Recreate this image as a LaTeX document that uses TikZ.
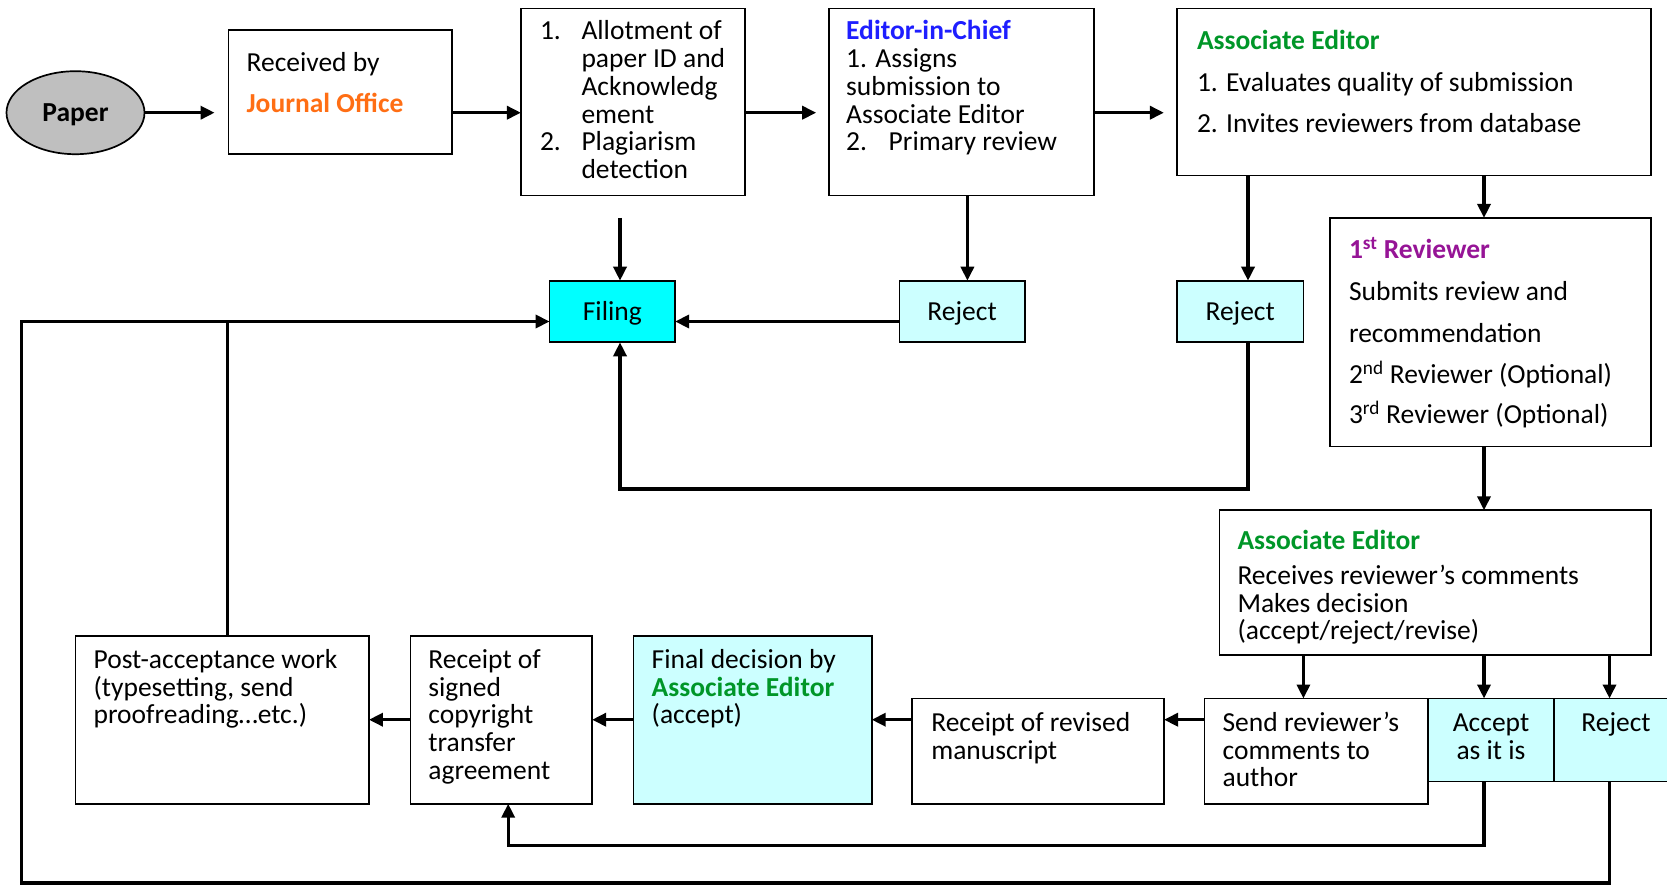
\documentclass[tikz,border=0pt]{standalone}
\usepackage{fontspec}
\setmainfont{Carlito}
\usetikzlibrary{arrows.meta,shapes.geometric}
\definecolor{jorange}{RGB}{255,110,20}
\definecolor{eblue}{RGB}{30,30,255}
\definecolor{agreen}{RGB}{0,150,40}
\definecolor{rpurple}{RGB}{150,20,150}
\definecolor{lcyan}{RGB}{204,255,255}
\definecolor{fcyan}{RGB}{0,255,255}
\definecolor{pgray}{RGB}{191,191,191}
\newcommand\mkbox[6]{\node[boxst,#6,minimum width={(#4)-(#2)},minimum height={(#5)-(#3)}] (#1) at ({((#2)+(#4))/2},{((#3)+(#5))/2}) {};}
\newcommand\txl[4]{\node[txt,anchor=base west] (#1) at (#2,#3) {#4};}
\newcommand\txc[4]{\node[txt,anchor=base] (#1) at (#2,#3) {#4};}
\begin{document}
\begin{tikzpicture}[x=1pt,y=-1pt,
  boxst/.style={draw,line width=1.7pt,inner sep=0pt,outer sep=0pt},
  txt/.style={inner sep=0pt,outer sep=0pt,yshift=-2.3pt,font=\fontsize{27.5}{28}\selectfont},
  arr/.style={line width=3.4pt,line join=miter,-{Triangle[length=14pt,width=13pt]}},
  ln/.style={line width=3.4pt,line join=miter}]
\useasboundingbox (0,0) rectangle (1667,886);
% boxes
\node[boxst,ellipse,fill=pgray,minimum width=138,minimum height=83] (paper) at (75.5,112.7) {};
\mkbox{recv}{228.6}{29.8}{451.8}{154.1}{}
\mkbox{allot}{520.9}{8.5}{745.2}{195.6}{}
\mkbox{eic}{829.2}{8.5}{1093.9}{195.6}{}
\mkbox{aeone}{1176.9}{8.5}{1651}{175.4}{}
\mkbox{rev}{1330}{217.9}{1651}{446.5}{}
\mkbox{aetwo}{1219.4}{510.3}{1651}{654.9}{}
\mkbox{send}{1204.5}{698.5}{1427.7}{803.7}{}
\mkbox{accept}{1427.7}{698.5}{1554.2}{781.4}{fill=lcyan}
\mkbox{rejthree}{1554.2}{698.5}{1690}{781.4}{fill=lcyan}
\mkbox{revd}{912.1}{698.5}{1164}{803.7}{}
\mkbox{final}{633.6}{635.7}{871.7}{803.7}{fill=lcyan}
\mkbox{signed}{410.4}{635.7}{592.1}{803.7}{}
\mkbox{post}{75.5}{635.7}{368.9}{803.7}{}
\mkbox{filing}{549.6}{280.7}{675.1}{342.3}{fill=fcyan}
\mkbox{rejone}{899.4}{280.7}{1024.8}{342.3}{fill=lcyan}
\mkbox{rejtwo}{1176.9}{280.7}{1303.4}{342.3}{fill=lcyan}
% texts
\node[txt,font=\fontsize{27.5}{28}\selectfont\bfseries] (tpaper) at (paper.center) {Paper};
\txl{ra}{246.6}{69.5}{Received by}
\txl{rb}{246.6}{110.6}{\textcolor{jorange}{\bfseries Journal Office}}
\txl{an1}{540}{37.5}{1.}
\txl{aa}{581.5}{37.5}{Allotment of}
\txl{ab}{581.5}{65.3}{paper ID and}
\txl{ac}{581.5}{93}{Acknowledg}
\txl{ad}{581.5}{120.7}{ement}
\txl{an2}{540}{148.4}{2.}
\txl{ae}{581.5}{148.4}{Plagiarism}
\txl{af}{581.5}{176.1}{detection}
\txl{ea}{846.2}{37.5}{\textcolor{eblue}{\bfseries Editor-in-Chief}}
\txl{eb}{846.2}{65.3}{1. Assigns}
\txl{ec}{846.2}{93}{submission to}
\txl{ed}{846.2}{120.7}{Associate Editor}
\txl{en2}{846.2}{148.4}{2.}
\txl{ee}{888.7}{148.4}{Primary review}
\txl{oa}{1197}{47}{\textcolor{agreen}{\bfseries Associate Editor}}
\txl{ob}{1197}{89}{1. Evaluates quality of submission}
\txl{oc}{1197}{130.5}{2. Invites reviewers from database}
\txl{va}{1349}{256}{\textcolor{rpurple}{\bfseries 1\textsuperscript{st} Reviewer}}
\txl{vb}{1349}{298.5}{Submits review and}
\txl{vc}{1349}{340}{recommendation}
\txl{vd}{1349}{381.5}{2\textsuperscript{nd} Reviewer (Optional)}
\txl{ve}{1349}{421.5}{3\textsuperscript{rd} Reviewer (Optional)}
\txl{ta}{1237.5}{547}{\textcolor{agreen}{\bfseries Associate Editor}}
\txl{tb}{1237.5}{582}{Receives reviewer’s comments}
\txl{tc}{1237.5}{609.7}{Makes decision}
\txl{td}{1237.5}{637.4}{(accept/reject/revise)}
\txl{sa}{1222.6}{729}{Send reviewer’s}
\txl{sb}{1222.6}{756.7}{comments to}
\txl{sc}{1222.6}{784.4}{author}
\txc{ca}{1491}{729}{Accept}
\txc{cb}{1491}{756.7}{as it is}
\txc{ja}{1616}{729}{Reject}
\txl{da}{931.3}{729}{Receipt of revised}
\txl{db}{931.3}{756.7}{manuscript}
\txl{fa}{651.7}{666}{Final decision by}
\txl{fb}{651.7}{693.7}{\textcolor{agreen}{\bfseries Associate Editor}}
\txl{fc}{651.7}{721.4}{(accept)}
\txl{ga}{428.4}{666}{Receipt of}
\txl{gb}{428.4}{693.7}{signed}
\txl{gc}{428.4}{721.4}{copyright}
\txl{gd}{428.4}{749.1}{transfer}
\txl{ge}{428.4}{776.8}{agreement}
\txl{pa}{93.6}{666}{Post-acceptance work}
\txl{pb}{93.6}{693.7}{(typesetting, send}
\txl{pc}{93.6}{721.4}{proofreading…etc.)}
\node[txt] (tfil) at (filing.center) {Filing};
\node[txt] (tr1) at (rejone.center) {Reject};
\node[txt] (tr2) at (rejtwo.center) {Reject};
% helper coordinates
\coordinate (ytop) at (0,112.7);
\coordinate (xfil) at (620,217.9);
\coordinate (xrv) at (1484,0);
\coordinate (xsend) at (1303.4,0);
\coordinate (xrj3) at (1609.5,0);
\coordinate (xr1) at (967.4,0);
\coordinate (xr2) at (1248,0);
\coordinate (yfil) at (0,321.5);
\coordinate (ybot) at (0,719.7);
\coordinate (acca) at (1484,845.2);
\coordinate (accb) at (508.2,845.2);
\coordinate (rja) at (1609.5,883);
\coordinate (rjb) at (21.3,883);
\coordinate (rjc) at (21.3,321.5);
\coordinate (pq) at (227.5,321.5);
\coordinate (rta) at (1248,489);
\coordinate (rtb) at (620,489);
% connectors
\draw[arr,shorten >=14pt] (paper.east) -- (recv.west |- ytop);
\draw[arr] (recv.east |- ytop) -- (allot.west |- ytop);
\draw[arr,shorten >=13pt] (allot.east |- ytop) -- (eic.west |- ytop);
\draw[arr,shorten >=13pt] (eic.east |- ytop) -- (aeone.west |- ytop);
\draw[arr] (xfil) -- (filing.north -| xfil);
\draw[arr] (eic.south -| xr1) -- (rejone.north -| xr1);
\draw[arr] (aeone.south -| xr2) -- (rejtwo.north -| xr2);
\draw[arr] (rejone.west |- yfil) -- (filing.east |- yfil);
\draw[arr] (rejtwo.south -| xr2) -- (rta) -- (rtb) -- (filing.south -| rtb);
\draw[arr] (aeone.south -| xrv) -- (rev.north -| xrv);
\draw[arr] (rev.south -| xrv) -- (aetwo.north -| xrv);
\draw[arr] (aetwo.south -| xsend) -- (send.north -| xsend);
\draw[arr] (aetwo.south -| xrv) -- (accept.north -| xrv);
\draw[arr] (aetwo.south -| xrj3) -- (rejthree.north -| xrj3);
\draw[arr] (send.west |- ybot) -- (revd.east |- ybot);
\draw[arr] (revd.west |- ybot) -- (final.east |- ybot);
\draw[arr] (final.west |- ybot) -- (signed.east |- ybot);
\draw[arr] (signed.west |- ybot) -- (post.east |- ybot);
\draw[arr] (accept.south -| xrv) -- (acca) -- (accb) -- (signed.south -| accb);
\draw[arr] (rejthree.south -| xrj3) -- (rja) -- (rjb) -- (rjc) -- (filing.west |- yfil);
\draw[ln] (post.north -| pq) -- (pq);
\end{tikzpicture}
\end{document}
